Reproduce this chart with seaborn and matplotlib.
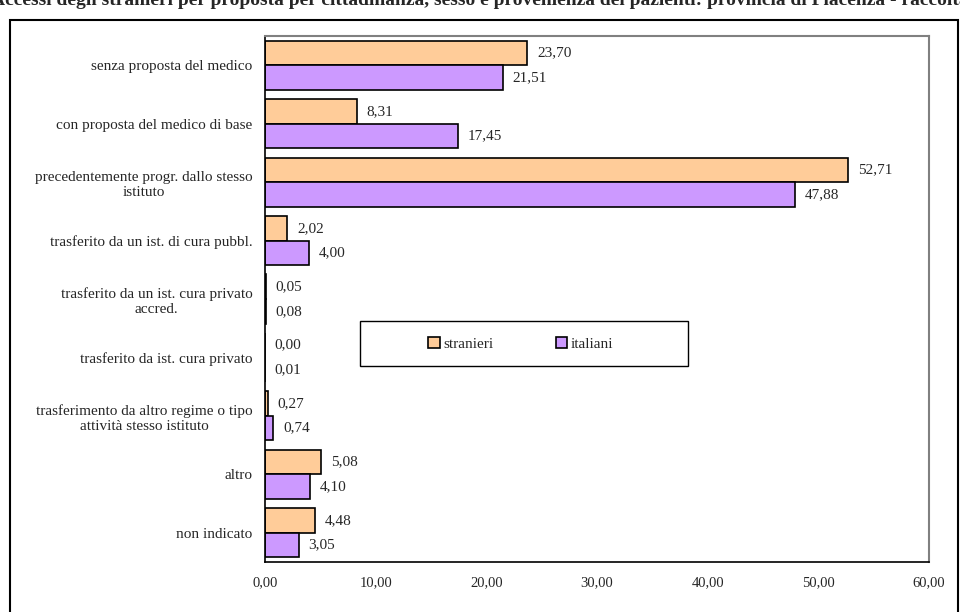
import matplotlib
matplotlib.use('Agg')
import matplotlib.pyplot as plt
import matplotlib.patches as mpatches
from matplotlib.ticker import FuncFormatter
import seaborn as sns
import pandas as pd

categories = [
    'senza proposta del medico',
    'con proposta del medico di base',
    'precedentemente progr. dallo stesso\nistituto',
    'trasferito da un ist. di cura pubbl.',
    'trasferito da un ist. cura privato\naccred.',
    'trasferito da ist. cura privato',
    'trasferimento da altro regime o tipo\nattività stesso istituto',
    'altro',
    'non indicato',
]
stranieri = [23.70, 8.31, 52.71, 2.02, 0.05, 0.00, 0.27, 5.08, 4.48]
italiani = [21.51, 17.45, 47.88, 4.00, 0.08, 0.01, 0.74, 4.10, 3.05]
series = ['stranieri', 'italiani']
colors = ['#FFCC99', '#CC99FF']
title = ('Accessi degli stranieri per proposta per cittadinanza, sesso e provenienza '
         'dei pazienti: provincia di Piacenza - raccolta')

df = pd.DataFrame({
    'categoria': categories * 2,
    'valore': stranieri + italiani,
    'gruppo': ['stranieri'] * len(categories) + ['italiani'] * len(categories),
})

sns.set_style('white')
plt.rcParams['font.family'] = ['Liberation Serif', 'DejaVu Serif']

fig = plt.figure(figsize=(9.6, 6.12), dpi=100)
ax = fig.add_axes([265 / 960, 1 - 562 / 612, (929 - 265) / 960, (562 - 36) / 612])

sns.barplot(data=df, y='categoria', x='valore', hue='gruppo', hue_order=series,
            palette=colors, saturation=1, orient='h', width=0.84,
            edgecolor='black', linewidth=1.2, ax=ax, legend=True)

for cont in ax.containers:
    labels = [f'{v:.2f}'.replace('.', ',') for v in cont.datavalues]
    ax.bar_label(cont, labels=labels, padding=7, fontsize=11)

ax.set_xlim(0, 60)
ax.set_ylim(len(categories) - 0.5, -0.5)
ax.set_xticks(range(0, 61, 10))
ax.xaxis.set_major_formatter(FuncFormatter(lambda v, p: f'{v:.2f}'.replace('.', ',')))
ax.set_yticks(range(len(categories)))
ax.set_yticklabels(categories, fontsize=11, multialignment='center')
ax.set_xlabel('')
ax.set_ylabel('')
ax.tick_params(axis='y', length=0, pad=9)
ax.tick_params(axis='x', length=4, width=1, color='black', direction='out',
               labelsize=10.5, pad=6)
# small ticks at the category boundaries
ax.set_yticks([i + 0.5 for i in range(-1, len(categories))], minor=True)
ax.tick_params(axis='y', which='minor', length=4, width=1, color='black', direction='out')

for side in ['left', 'bottom']:
    ax.spines[side].set_color('black')
    ax.spines[side].set_linewidth(1.2)
for side in ['top', 'right']:
    ax.spines[side].set_visible(True)
    ax.spines[side].set_color('#808080')
    ax.spines[side].set_linewidth(1.5)

# legend box drawn separately, entries centred inside it
ax.add_patch(mpatches.Rectangle((0.143, 0.3726), 0.494, 0.0854, transform=ax.transAxes,
                                fill=True, facecolor='white', edgecolor='black',
                                linewidth=1.0, zorder=4))
leg = ax.legend(loc='center', bbox_to_anchor=(0.385, 0.415), ncol=2, frameon=False,
                fontsize=11, handlelength=0.75, handleheight=0.75,
                handletextpad=0.2, columnspacing=4.1)
leg.set_zorder(5)
for h in leg.legend_handles:
    h.set_edgecolor('black')
    h.set_linewidth(1.2)

# outer chart border
fig.patches.append(mpatches.Rectangle((10 / 960, -0.05), 948 / 960, 1.05 - 20 / 612,
                                      transform=fig.transFigure, fill=False,
                                      edgecolor='black', linewidth=1.5))

# title is cut by the top edge, as in the source image
fig.text(0.5, 1 - 5 / 612, title, ha='center', va='baseline',
         fontsize=14, fontweight='bold')

fig.savefig('out.png', dpi=100)
